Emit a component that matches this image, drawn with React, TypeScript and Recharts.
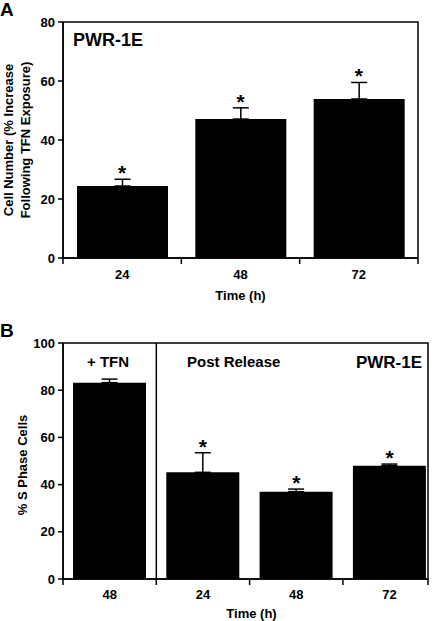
import React from "react";
import {
  ComposedChart,
  Bar,
  ErrorBar,
  Scatter,
  XAxis,
  YAxis,
  ReferenceArea,
  ReferenceLine,
} from "recharts";

// Panel A: cell number increase after TFN exposure
const timesA = ["24", "48", "72"];
const meansA = [24.4, 47.1, 53.9];
const errsA = [2.3, 3.8, 5.6];
const starsA = [true, true, true];
const yTicksA = [0, 20, 40, 60, 80];

// Panel B: % S phase cells (+TFN, then post release)
const timesB = ["48", "24", "48", "72"];
const meansB = [83.2, 45.2, 37.0, 48.0];
const errsB = [1.5, 8.3, 1.1, 0.7];
const starsB = [false, true, true, true];
const yTicksB = [0, 20, 40, 60, 80, 100];

const FONT = '"Liberation Sans", Arial, Helvetica, sans-serif';
const AXIS = { stroke: "#000", strokeWidth: 1.5 };

interface Row {
  pos: number;
  label: string;
  mean: number;
  err: [number, number];
  top: number;
  star: boolean;
}

function buildRows(times: string[], means: number[], errs: number[], stars: boolean[]): Row[] {
  return times.map((t, i) => ({
    pos: i + 0.5,
    label: t,
    mean: means[i],
    err: [0, errs[i]],
    top: means[i] + errs[i],
    star: stars[i],
  }));
}

const dataA = buildRows(timesA, meansA, errsA, starsA);
const dataB = buildRows(timesB, meansB, errsB, starsB);

function makeXTick(rows: Row[], boundaries: number[], labelDy: number) {
  return function XTick(props: any) {
    const { x, y, payload } = props;
    const v = payload.value;
    if (boundaries.includes(v)) {
      return <line x1={x} x2={x} y1={y} y2={y + 6} stroke="#000" strokeWidth={1.5} />;
    }
    const row = rows.find((r) => r.pos === v);
    return (
      <text x={x} y={y + labelDy} textAnchor="middle" fontSize={13} fontWeight="bold" fill="#000">
        {row ? row.label : ""}
      </text>
    );
  };
}

function YTitle(props: any) {
  const { viewBox, lines, xs, dy = 0 } = props;
  const cy = viewBox.y + viewBox.height / 2 + dy;
  return (
    <g>
      {lines.map((l: string, i: number) => (
        <text
          key={i}
          transform={`translate(${xs[i]},${cy}) rotate(-90)`}
          textAnchor="middle"
          dominantBaseline="central"
          fontSize={13}
          fontWeight="bold"
          fill="#000"
        >
          {l}
        </text>
      ))}
    </g>
  );
}

function XTitle(props: any) {
  const { viewBox, dx = 0, baseline } = props;
  return (
    <text
      x={viewBox.x + viewBox.width / 2 + dx}
      y={viewBox.y + baseline}
      textAnchor="middle"
      fontSize={13}
      fontWeight="bold"
      fill="#000"
    >
      Time (h)
    </text>
  );
}

function Star(props: any) {
  const { cx, cy, payload } = props;
  if (!payload || !payload.star) return <g />;
  return (
    <text x={cx} y={cy + 1} textAnchor="middle" fontSize={21} fontWeight="bold" fill="#000">
      *
    </text>
  );
}

const centersA = dataA.map((d) => d.pos);
const boundsA = [0, 1, 2, 3];
const centersB = dataB.map((d) => d.pos);
const boundsB = [0, 1, 2, 3, 3.912];

function PanelA() {
  return (
    <ComposedChart
      width={438}
      height={310}
      data={dataA}
      margin={{ top: 22, right: 20, bottom: 12, left: 0 }}
    >
      <ReferenceArea x1={0} x2={3} y1={0} y2={80} fill="none" fillOpacity={0} stroke="#000" strokeWidth={1.5} />
      <XAxis
        type="number"
        dataKey="pos"
        domain={[0, 3]}
        ticks={[...boundsA, ...centersA].sort((a, b) => a - b)}
        interval={0}
        tickLine={false}
        tickSize={0}
        tickMargin={0}
        axisLine={AXIS}
        height={40}
        tick={makeXTick(dataA, boundsA, 21)}
        label={<XTitle baseline={42} />}
      />
      <YAxis
        type="number"
        domain={[0, 80]}
        ticks={yTicksA}
        interval={0}
        width={63}
        tickSize={5}
        tickMargin={3}
        tickLine={AXIS}
        axisLine={AXIS}
        tick={{ fontSize: 13, fontWeight: "bold", fill: "#000" }}
        label={<YTitle lines={["Cell Number (% Increase", "Following TFN Exposure)"]} xs={[8, 25]} />}
      />
      <Bar dataKey="mean" fill="#000" barSize={91} isAnimationActive={false}>
        <ErrorBar dataKey="err" direction="y" width={8} stroke="#000" strokeWidth={1.5} />
      </Bar>
      <Scatter dataKey="top" shape={Star} isAnimationActive={false} />
    </ComposedChart>
  );
}

function PanelB() {
  return (
    <ComposedChart
      width={438}
      height={301}
      data={dataB}
      margin={{ top: 23, right: 10, bottom: 2, left: 0 }}
    >
      <ReferenceArea x1={0} x2={3.912} y1={0} y2={100} fill="none" fillOpacity={0} stroke="#000" strokeWidth={1.5} />
      <ReferenceLine x={1} stroke="#000" strokeWidth={1.5} />
      <XAxis
        type="number"
        dataKey="pos"
        domain={[0, 3.912]}
        ticks={[...boundsB, ...centersB].sort((a, b) => a - b)}
        interval={0}
        tickLine={false}
        tickSize={0}
        tickMargin={0}
        axisLine={AXIS}
        height={40}
        tick={makeXTick(dataB, boundsB, 20)}
        label={<XTitle baseline={39} dx={6} />}
      />
      <YAxis
        type="number"
        domain={[0, 100]}
        ticks={yTicksB}
        interval={0}
        width={63}
        tickSize={5}
        tickMargin={3}
        tickLine={AXIS}
        axisLine={AXIS}
        tick={{ fontSize: 13, fontWeight: "bold", fill: "#000" }}
        label={<YTitle lines={["% S Phase Cells"]} xs={[22]} dy={4} />}
      />
      <Bar dataKey="mean" fill="#000" barSize={73} isAnimationActive={false}>
        <ErrorBar dataKey="err" direction="y" width={8} stroke="#000" strokeWidth={1.5} />
      </Bar>
      <Scatter dataKey="top" shape={Star} isAnimationActive={false} />
    </ComposedChart>
  );
}

const note = (extra: React.CSSProperties): React.CSSProperties => ({
  position: "absolute",
  fontWeight: "bold",
  lineHeight: 1,
  whiteSpace: "nowrap",
  color: "#000",
  ...extra,
});

export default function App() {
  return (
    <div
      style={{
        position: "absolute",
        left: 0,
        top: 0,
        width: 438,
        height: 621,
        background: "#fff",
        fontFamily: FONT,
        overflow: "hidden",
      }}
    >
      <div style={{ position: "absolute", left: 0, top: 0 }}>
        <PanelA />
      </div>
      <div style={{ position: "absolute", left: 0, top: 320 }}>
        <PanelB />
      </div>
      <div style={note({ left: 0, top: 0, fontSize: 19 })}>A</div>
      <div style={note({ left: 73, top: 31, fontSize: 18 })}>PWR-1E</div>
      <div style={note({ left: 0, top: 321, fontSize: 19 })}>B</div>
      <div style={note({ left: 87, top: 354, fontSize: 15 })}>+ TFN</div>
      <div style={note({ left: 187, top: 354, fontSize: 15 })}>Post Release</div>
      <div style={note({ right: 16, top: 354, fontSize: 17 })}>PWR-1E</div>
    </div>
  );
}
